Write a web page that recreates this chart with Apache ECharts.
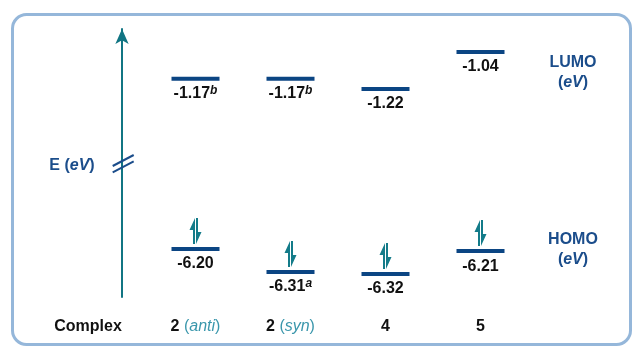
<!DOCTYPE html>
<html>
<head>
<meta charset="utf-8">
<script src="https://cdn.jsdelivr.net/npm/echarts@6/dist/echarts.min.js"></script>
<style>
html,body{margin:0;padding:0;background:#fff;}
#chart{width:634px;height:347px;}
</style>
</head>
<body>
<div id="chart"></div>
<script>
// ---- data ----
const complexes = ['2 (anti)', '2 (syn)', '4', '5'];
const lumo = [-1.17, -1.17, -1.22, -1.04];
const homo = [-6.20, -6.31, -6.32, -6.21];
const lumoNotes = ['b', 'b', '', ''];
const homoNotes = ['', 'a', '', ''];
const rowLabel = 'Complex';
const axisName = 'E (eV)';

const FONT = 'Liberation Sans, Arial, Helvetica, sans-serif';
const BAR = '#0b4583';
const TEAL = '#117583';
const NAVY = '#1b4d8b';

const chart = echarts.init(document.getElementById('chart'), null, {renderer: 'canvas'});

function valueLabel(notes) {
  return function (p) {
    const n = notes[p.dataIndex];
    return '{v|' + p.value.toFixed(2) + '}' + (n ? '{s|' + n + '}' : '');
  };
}
const labelRich = {
  v: {fontSize: 16, fontWeight: 'bold', color: '#111', fontFamily: FONT, lineHeight: 18},
  s: {fontSize: 12, fontStyle: 'italic', fontWeight: 'bold', color: '#111', verticalAlign: 'top', fontFamily: FONT, lineHeight: 12}
};
function levelSeries(data, notes, idx) {
  return {
    type: 'scatter',
    xAxisIndex: idx, yAxisIndex: idx,
    data: data,
    symbol: 'rect',
    symbolSize: [48, 4],
    itemStyle: {color: BAR, opacity: 1},
    silent: true,
    label: {
      show: true, position: 'bottom', distance: 4, opacity: 1,
      formatter: valueLabel(notes),
      color: '#111', fontSize: 16, fontWeight: 'bold', fontFamily: FONT,
      rich: labelRich
    },
    z: 3
  };
}

const electronPath = 'path://M5.5 0L5.5 26L3.5 26L3.5 12L0 12ZM6.5 26L6.5 0L8.5 0L8.5 14L12 14Z';

const option = {
  animation: false,
  backgroundColor: '#fff',
  grid: [
    {left: 148, width: 380, top: 33.5, height: 72},
    {left: 148, width: 380, top: 228.2, height: 62.5},
    {left: 122, width: 1, top: 29, height: 268}
  ],
  xAxis: [
    {type: 'category', gridIndex: 0, data: complexes, show: false},
    {type: 'category', gridIndex: 1, data: complexes,
      axisLine: {show: false}, axisTick: {show: false}, splitLine: {show: false},
      axisLabel: {
        interval: 0,
        margin: 28, fontSize: 16, fontFamily: FONT,
        formatter: function (v) {
          const m = v.match(/^(\S+)(?: \((.+)\))?$/);
          return m[2] ? '{b|' + m[1] + '} {p|(}{i|' + m[2] + '}{p|)}' : '{b|' + m[1] + '}';
        },
        rich: {
          b: {fontSize: 16, fontWeight: 'bold', color: '#111', fontFamily: FONT},
          p: {fontSize: 16, color: '#3b97ac', fontFamily: FONT},
          i: {fontSize: 16, fontStyle: 'italic', color: '#3b97ac', fontFamily: FONT}
        }
      }
    },
    {type: 'value', gridIndex: 2, show: false}
  ],
  yAxis: [
    {type: 'value', gridIndex: 0, min: -1.30, max: -0.95, show: false},
    {type: 'value', gridIndex: 1, min: -6.40, max: -6.10, show: false},
    {type: 'value', gridIndex: 2, min: 0, max: 1,
      axisLine: {show: true, onZero: false, lineStyle: {color: TEAL, width: 2},
        symbol: ['none', 'arrow'], symbolSize: [10, 15]},
      axisTick: {show: false}, axisLabel: {show: false}, splitLine: {show: false}
    }
  ],
  series: [
    levelSeries(lumo, lumoNotes, 0),
    levelSeries(homo, homoNotes, 1),
    {
      type: 'scatter',
      xAxisIndex: 1, yAxisIndex: 1,
      data: homo,
      symbol: electronPath,
      symbolSize: [12, 26],
      symbolOffset: [0, -18],
      itemStyle: {color: '#137b89', opacity: 1},
      silent: true,
      z: 4
    }
  ],
  graphic: [
    {type: 'rect', shape: {x: 12.5, y: 14.5, width: 618, height: 330, r: 14},
      style: {fill: 'none', stroke: '#95b7da', lineWidth: 3}, silent: true, z: 0},
    {type: 'line', shape: {x1: 112.7, y1: 166, x2: 133.7, y2: 155}, style: {stroke: NAVY, lineWidth: 2}, z: 10},
    {type: 'line', shape: {x1: 112.7, y1: 172.3, x2: 133.7, y2: 161.3}, style: {stroke: NAVY, lineWidth: 2}, z: 10},
    {type: 'text', x: 72, y: 166, style: {
      text: '{b|E (}{i|eV}{b|)}', align: 'center', verticalAlign: 'middle',
      rich: {
        b: {fontSize: 16, fontWeight: 'bold', fill: NAVY, fontFamily: FONT},
        i: {fontSize: 16, fontWeight: 'bold', fontStyle: 'italic', fill: NAVY, fontFamily: FONT}
      }}, z: 10},
    {type: 'text', x: 573, y: 72.5, style: {
      text: '{b|LUMO}\n{b|(}{i|eV}{b|)}', align: 'center', verticalAlign: 'middle',
      rich: {
        b: {fontSize: 16, fontWeight: 'bold', fill: NAVY, fontFamily: FONT, lineHeight: 20},
        i: {fontSize: 16, fontWeight: 'bold', fontStyle: 'italic', fill: NAVY, fontFamily: FONT, lineHeight: 20}
      }}, z: 10},
    {type: 'text', x: 573, y: 249.5, style: {
      text: '{b|HOMO}\n{b|(}{i|eV}{b|)}', align: 'center', verticalAlign: 'middle',
      rich: {
        b: {fontSize: 16, fontWeight: 'bold', fill: NAVY, fontFamily: FONT, lineHeight: 20},
        i: {fontSize: 16, fontWeight: 'bold', fontStyle: 'italic', fill: NAVY, fontFamily: FONT, lineHeight: 20}
      }}, z: 10},
    {type: 'text', x: 88, y: 327, style: {
      text: rowLabel, align: 'center', verticalAlign: 'middle',
      fontSize: 16, fontWeight: 'bold', fill: '#111', fontFamily: FONT}, z: 10}
  ]
};
chart.setOption(option);
</script>
</body>
</html>
